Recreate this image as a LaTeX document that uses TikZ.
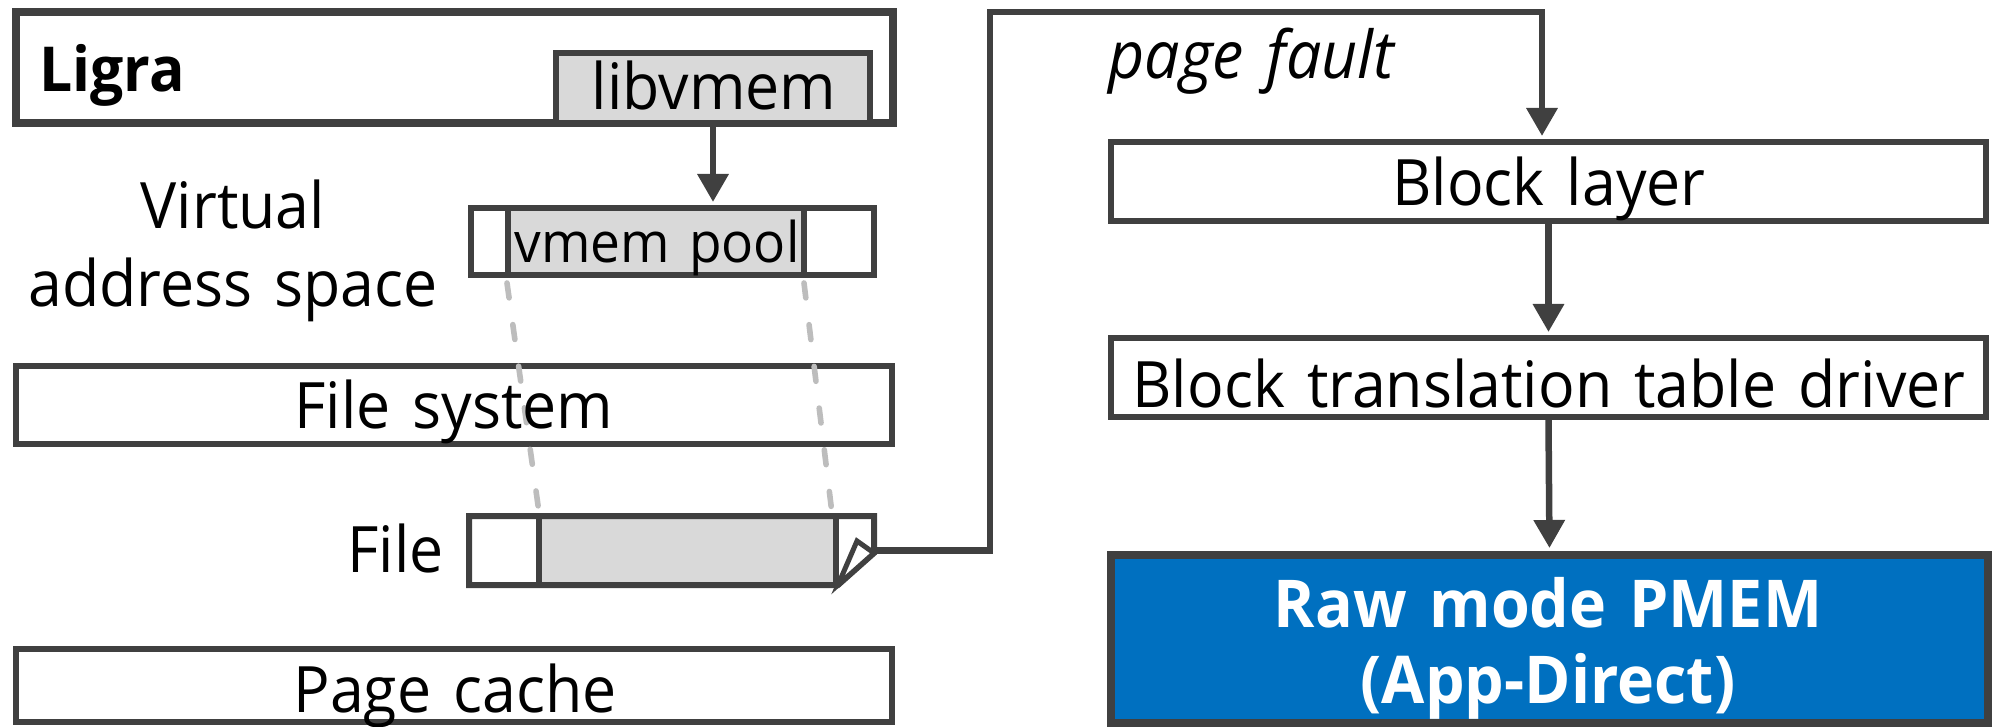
\documentclass[tikz,border=0pt]{standalone}
\usepackage{fontspec}
\setmainfont{Open Sans}[FakeStretch=0.95, WordSpace=1.4]
\usetikzlibrary{arrows.meta}
\definecolor{linegray}{HTML}{404040}
\definecolor{fillgray}{HTML}{D9D9D9}
\definecolor{dashgray}{HTML}{BDBDBD}
\definecolor{pmemblue}{HTML}{0070C0}
\begin{document}
\begin{tikzpicture}[x=0.5pt,y=-0.5pt,
  box/.style={draw=linegray, line width=3pt, fill=white, inner sep=0pt},
  lbl/.style={inner sep=0pt, text=black, font=\fontsize{32pt}{39pt}\selectfont},
  arr/.style={draw=linegray, line width=3.25pt, shorten >=1.5pt, -{Triangle[length=14pt,width=15pt]}},
  map/.style={draw=dashgray, line width=2.8pt, line cap=round, dash pattern=on 7.5pt off 13.5pt}]
\useasboundingbox (0,0) rectangle (1994,727);

% ---- left column: application, address space, file system ----
\node[box, line width=3.75pt, minimum width=438.5pt, minimum height=55.5pt] (ligra) at (454.5,67.5) {};
\node[box, fill=fillgray, minimum width=157pt, minimum height=35pt] (libvmem) at (713,88) {};

\node[box, minimum width=201.5pt, minimum height=33.5pt] (vas) at (672.5,241.5) {};
\node[box, fill=fillgray, minimum width=148pt, minimum height=33.5pt] (pool) at (656,241.5) {};

\node[box, minimum width=438pt, minimum height=39pt] (fs) at (454,405) {};

% file with a folded lower-right corner
\node[inner sep=0pt, minimum width=202.5pt, minimum height=34.5pt] (file) at (671.5,550.5) {};
\fill[white] (469,516) -- (874,516) -- (874,553) -- (838,585) -- (469,585) -- cycle;
\node[inner sep=0pt, fill=fillgray, minimum width=148.5pt, minimum height=34.5pt] (fgray) at (687.5,550.5) {};
\draw[linegray, line width=3pt] (fgray.north west) -- (fgray.south west);
\draw[linegray, line width=3pt] (fgray.north east) -- (fgray.south east);
\draw[linegray, line width=3pt, line join=miter] (469,516) -- (874,516) -- (874,553) -- (838,585) -- (469,585) -- cycle;
\draw[linegray, line width=2.5pt, fill=white, line join=miter] (838,585) -- (857,541) -- (874,553) -- cycle;

\node[box, minimum width=438pt, minimum height=36.5pt] (cache) at (454,685.5) {};

% mapping of the pool onto the file
\draw[map] (pool.south west) ++(2,5) -- ([xshift=0.5pt,yshift=-0.5pt]fgray.north west);
\draw[map] (pool.south east) ++(-3,5) -- ([xshift=-2pt,yshift=-0.5pt]fgray.north east);

% ---- right column: block stack ----
\node[box, minimum width=437.5pt, minimum height=39.5pt] (blk) at (1548.5,181.5) {};
\node[box, minimum width=437.5pt, minimum height=39.5pt] (btt) at (1548.5,377.5) {};
\node[box, line width=4pt, fill=pmemblue, minimum width=438.5pt, minimum height=84pt] (pmem) at (1549.5,639) {};

% ---- connectors ----
\coordinate (bend) at (990,12);
\draw[arr] (libvmem.south) -- (libvmem.south |- vas.north);
\draw[arr, line join=miter] (file.east) -| (bend) -| ([xshift=-3.25pt]blk.north);
\draw[arr] (blk.south) -- (btt.north);
\draw[arr] (btt.south) -- (pmem.north);

% ---- labels ----
\node[lbl, font=\fontsize{31pt}{36pt}\selectfont\bfseries, anchor=base west] (ligratxt) at (39,92) {Ligra};
\node[lbl, anchor=base] (libvmemtxt) at (714,110) {libvmem};
\node[lbl, align=center] (vastxt) at (233,251) {Virtual\\address space};
\node[lbl, font=\fontsize{28pt}{34pt}\selectfont, anchor=base] (pooltxt) at (657,263) {vmem pool};
\node[lbl, anchor=base] (fstxt) at (454,429) {File system};
\node[lbl, anchor=base east] (filetxt) at (444,573) {File};
\node[lbl, anchor=base] (cachetxt) at (455,712) {Page cache};
\node[lbl, font=\fontsize{33pt}{39pt}\selectfont\itshape, anchor=base west] (pftxt) at (1108,79) {page fault};
\node[lbl, anchor=base] (blktxt) at (1549,206) {Block layer};
\node[lbl, anchor=base] (btttxt) at (1549,408) {Block translation table driver};
\node[lbl, text=white, align=center, font=\fontsize{33pt}{38pt}\selectfont\bfseries] (pmemtxt) at (1548,648) {Raw mode PMEM\\(App-Direct)};
\end{tikzpicture}
\end{document}
